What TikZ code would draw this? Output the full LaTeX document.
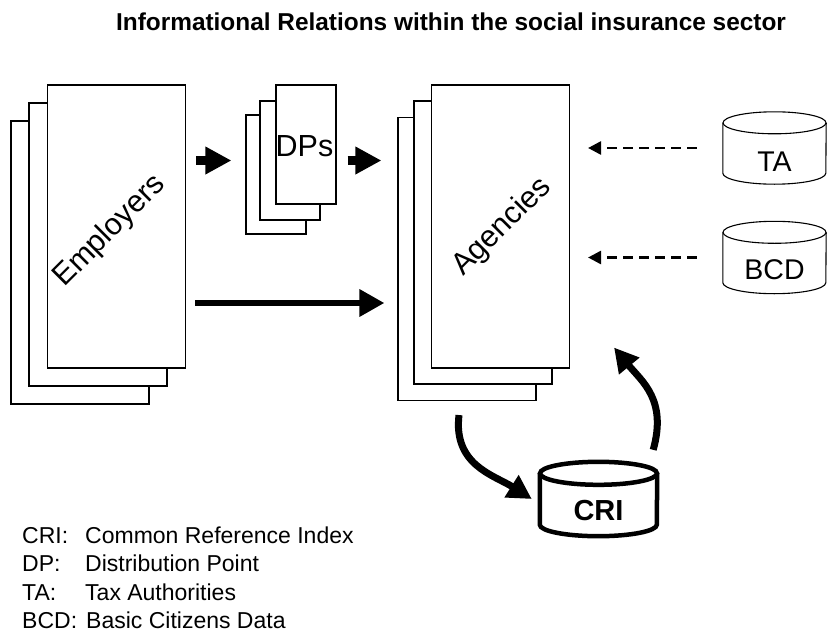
\documentclass[tikz,border=0pt]{standalone}
\usepackage{fontspec}
\setmainfont{Liberation Sans}
\usetikzlibrary{arrows.meta}
\begin{document}
\begin{tikzpicture}[x=1pt,y=-1pt,
  sheet/.style={draw=black,line width=1.1pt,fill=white,inner sep=0pt},
  bigsheet/.style={sheet,minimum width=138pt,minimum height=283pt},
  dpsheet/.style={sheet,minimum width=60pt,minimum height=119pt},
  holder/.style={draw=none,inner sep=0pt},
  bigtext/.style={font=\fontsize{30.5}{30.5}\selectfont,inner sep=0pt},
  dbtext/.style={font=\fontsize{28.5}{28.5}\selectfont,inner sep=0pt},
  legend/.style={font=\fontsize{23}{23}\selectfont,inner sep=0pt,anchor=base west},
  cylline/.style={draw=black,line width=1.1pt},
  fatarrow/.style={line width=9pt,-{Triangle[length=26pt,width=26pt]}},
  longarrow/.style={line width=6.5pt,-{Triangle[length=25pt,width=26pt]}},
  feed/.style={line width=2.7pt,dash pattern=on 10pt off 6pt,-{Triangle[length=13pt,width=13pt]}},
  loop/.style={line width=7pt,-{Triangle[length=24pt,width=25pt]}}]
\useasboundingbox (0,0) rectangle (830,637);

% title
\node[font=\bfseries\fontsize{24.4}{24.4}\selectfont,inner sep=0pt] (title) at (451,22)
  {Informational Relations within the social insurance sector};

% employers stack
\node[bigsheet] (empb) at (80,262.5) {};
\node[bigsheet] (empm) at (98,244.5) {};
\node[bigsheet] (emp)  at (116.5,226.5) {};
\node[bigtext,rotate=45] (emptext) at (110,231) {Employers};

% distribution points stack
\node[dpsheet] (dpb) at (276,174.5) {};
\node[dpsheet] (dpm) at (290,160.5) {};
\node[dpsheet] (dp)  at (306,144.5) {};
\node[bigtext] (dptext) at (304.5,146.5) {DPs};

% agencies stack
\node[bigsheet] (agb) at (467,259) {};
\node[bigsheet] (agm) at (483,242.5) {};
\node[bigsheet] (ag)  at (500.5,226.5) {};
\node[bigtext,rotate=45] (agtext) at (502,227) {Agencies};

% external databases
\node[holder,minimum width=103pt,minimum height=72pt] (ta) at (774.5,148) {};
\node[holder,minimum width=103pt,minimum height=72pt] (bcd) at (774.5,257.5) {};
\foreach \db in {ta,bcd}{
  \draw[cylline] ([yshift=-11pt]\db.north west) -- ([yshift=11pt]\db.south west)
    arc[start angle=180,end angle=360,x radius=51.5pt,y radius=11pt]
    -- ([yshift=-11pt]\db.north east);
  \draw[cylline] ([yshift=-11pt]\db.north) ellipse[x radius=51.5pt,y radius=11pt];
}
\node[dbtext] (tatext) at ([yshift=-14pt]ta.center) {TA};
\node[dbtext] (bcdtext) at ([yshift=-12pt]bcd.center) {BCD};

% common reference index
\node[holder,minimum width=117pt,minimum height=74pt] (cri) at (598.5,499) {};
\draw[line width=4.5pt] ([yshift=-11.5pt]cri.north west) -- ([yshift=11.5pt]cri.south west)
  arc[start angle=180,end angle=360,x radius=58.5pt,y radius=11.5pt]
  -- ([yshift=-11.5pt]cri.north east);
\draw[line width=4.5pt] ([yshift=-11.5pt]cri.north) ellipse[x radius=58.5pt,y radius=11.5pt];
\node[font=\bfseries\fontsize{29}{29}\selectfont,inner sep=0pt] (critext)
  at ([yshift=-12pt]cri.center) {CRI};

% flows
\draw[fatarrow,shorten <=10pt,shorten >=14pt] (emp.east |- dpm.center) -- (dpb.west |- dpm.center);
\draw[fatarrow,shorten <=11pt,shorten >=16pt] (dp.east |- dpm.center) -- (agb.west |- dpm.center);
\coordinate (lowrow) at ([yshift=-76.5pt]emp.east);
\draw[longarrow,shorten <=9pt,shorten >=13pt] (lowrow) -- (agb.west |- lowrow);
\draw[feed,shorten <=26pt,shorten >=18pt] (ta.west) -- (ag.east |- ta.west);
\draw[feed,shorten <=26pt,shorten >=18pt] (bcd.west) -- (ag.east |- bcd.west);

% exchange with the reference index
\draw[loop] ([xshift=-8pt,yshift=-14pt]agb.south) .. controls +(-6,50) and +(-38,-24) .. ([xshift=-8pt]cri.west);
\coordinate (backtip) at ([xshift=44pt,yshift=21pt]ag.south east);
\draw[loop] ([xshift=-4pt,yshift=12pt]cri.north east) .. controls +(14,-50) and +(28,34) .. (backtip);

% legend
\node[legend] (k1) at (22,543) {CRI:};
\node[legend] (d1) at (85,543) {Common Reference Index};
\node[legend] (k2) at (22,571) {DP:};
\node[legend] (d2) at (85,571) {Distribution Point};
\node[legend] (k3) at (22,600) {TA:};
\node[legend] (d3) at (85,600) {Tax Authorities};
\node[legend] (k4) at (22,628) {BCD:};
\node[legend] (d4) at (86,628) {Basic Citizens Data};
\end{tikzpicture}
\end{document}
